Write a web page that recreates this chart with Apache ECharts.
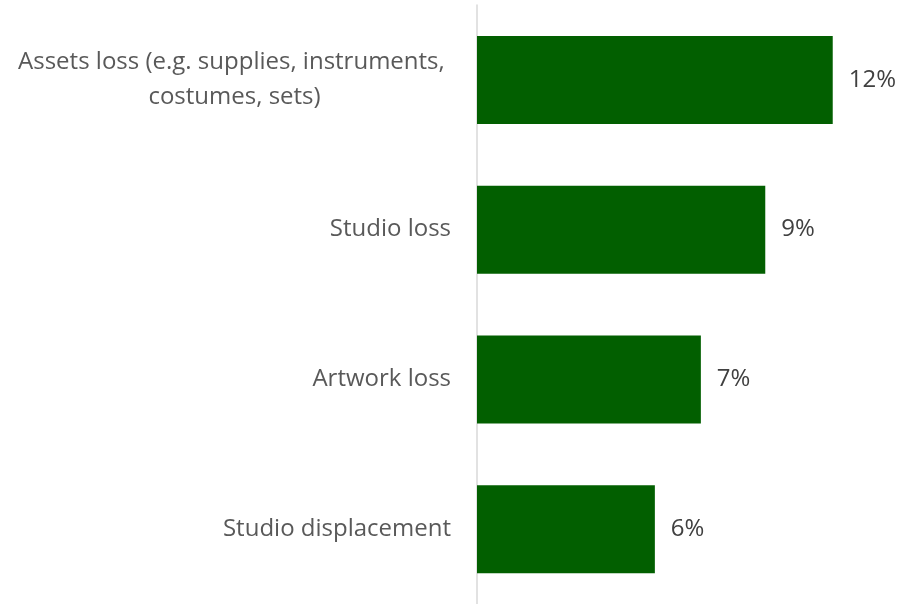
<!DOCTYPE html>
<html>
<head>
<meta charset="utf-8">
<script src="https://cdn.jsdelivr.net/npm/echarts@6/dist/echarts.min.js"></script>
<style>html,body{margin:0;padding:0;background:#fff}#c{width:905px;height:604px}</style>
</head>
<body>
<div id="c"></div>
<script>
const categories = ["Assets loss (e.g. supplies, instruments, \ncostumes, sets)", "Studio loss", "Artwork loss", "Studio displacement"];
const values = [11.6, 9.4, 7.3, 5.8];
const valueLabels = ["12%", "9%", "7%", "6%"];

const chart = echarts.init(document.getElementById('c'), null, {renderer: 'canvas'});
chart.setOption({
  animation: false,
  grid: {left: 477, top: 5, width: 414, height: 600},
  xAxis: {type: 'value', min: 0, max: 13.5, show: false},
  yAxis: {
    type: 'category', inverse: true, data: categories,
    axisLine: {show: true, lineStyle: {color: '#d9d9d9', width: 1.5}},
    axisTick: {show: false},
    axisLabel: {
      margin: 26, color: '#595959', fontFamily: 'Open Sans', fontSize: 24,
      formatter: function (v) {
        return v.split('\n').map(function (s) { return '{c|' + s + '}'; }).join('\n');
      },
      rich: {c: {align: 'center', color: '#595959', fontFamily: 'Open Sans', fontSize: 24, lineHeight: 35}}
    }
  },
  series: [{
    type: 'bar', data: values, barWidth: 88,
    itemStyle: {color: '#025f00'},
    label: {
      show: true, position: 'right', distance: 16,
      color: '#404040', fontFamily: 'Open Sans', fontSize: 24,
      formatter: function (p) { return valueLabels[p.dataIndex]; }
    }
  }]
});
</script>
</body>
</html>
